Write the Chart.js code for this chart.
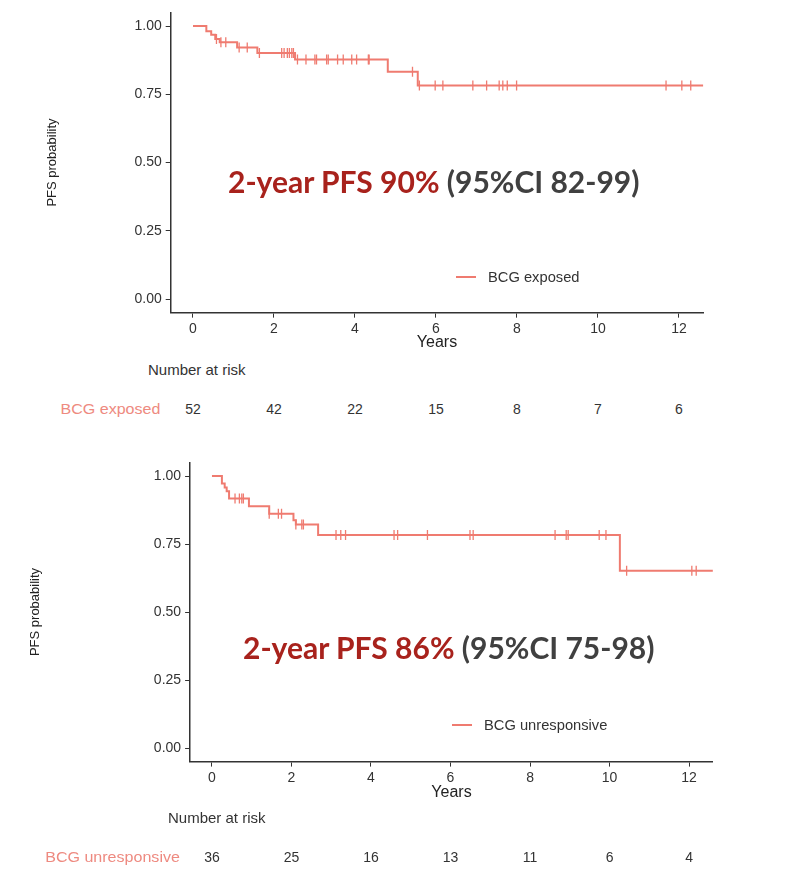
<!DOCTYPE html>
<html lang="en">
<head>
    <meta charset="UTF-8">
    <title>PFS by BCG status</title>
    <style>
        body {
            margin: 0;
            width: 796px;
            height: 888px;
            position: relative;
            overflow: hidden;
            background: #fff;
            font-family: "Liberation Sans", Arial, sans-serif;
        }
        .panel {
            position: absolute;
            left: 0;
            width: 796px;
            height: 360px;
        }
        .txt {
            position: absolute;
            white-space: nowrap;
            color: #333;
            font-size: 15px;
            line-height: 16px;
        }
        .risk-label {
            color: #EE8A80;
            text-align: right;
            transform: scaleX(1.07);
            transform-origin: right center;
        }
        .risk-num { transform: translateX(-50%); font-size: 14px; }
        .legend-line {
            position: absolute;
            width: 20px;
            height: 2px;
            background: #EF7B70;
        }
        .legend-txt {
            font-size: 14px;
            transform: scaleX(1.05);
            transform-origin: left center;
        }
        .pfs {
            position: absolute;
            white-space: nowrap;
            font-family: Lato, "Open Sans", sans-serif;
            font-weight: 700;
            font-size: 30px;
            line-height: 34px;
        }
        .pfs .hi { color: #A8221C; }
        .pfs .ci { color: #404040; }
    </style>
</head>
<body>
    <canvas id="exposedChart" class="panel" style="top:0" width="796" height="360"></canvas>
    <canvas id="unrespChart" class="panel" style="top:450px" width="796" height="360"></canvas>

    <!-- top panel texts -->
    <div class="pfs" style="left:228px; top:164px"><span class="hi">2-year PFS 90%</span> <span class="ci">(95%CI 82-99)</span></div>
    <div class="legend-line" style="left:456px; top:276px"></div>
    <div class="txt legend-txt" style="left:488px; top:269px">BCG exposed</div>
    <div class="txt" style="left:148px; top:362px">Number at risk</div>
    <div class="txt risk-label" style="right:636px; top:401px">BCG exposed</div>
    <div id="exposedRiskRow"></div>

    <!-- bottom panel texts -->
    <div class="pfs" style="left:243px; top:630px"><span class="hi">2-year PFS 86%</span> <span class="ci">(95%CI 75-98)</span></div>
    <div class="legend-line" style="left:452px; top:724px"></div>
    <div class="txt legend-txt" style="left:484px; top:717px">BCG unresponsive</div>
    <div class="txt" style="left:168px; top:810px">Number at risk</div>
    <div class="txt risk-label" style="right:616px; top:849px">BCG unresponsive</div>
    <div id="unrespRiskRow"></div>

    <script src="https://cdn.jsdelivr.net/npm/chart.js"></script>
    <script>
        // axis ticks
        const yearTicks = [0, 2, 4, 6, 8, 10, 12];
        const probTicks = [0, 0.25, 0.5, 0.75, 1];

        // BCG exposed: step times (years) and survival after each step
        const exposedTimes = [0, 0.33, 0.45, 0.55, 0.66, 1.09, 1.59, 2.52, 4.81, 5.55, 12.6];
        const exposedSurv  = [1, 0.981, 0.968, 0.953, 0.941, 0.921, 0.901, 0.877, 0.833, 0.782, 0.782];
        const exposedCensor = [0.58, 0.69, 0.81, 1.14, 1.34, 1.64, 2.19, 2.25, 2.33, 2.38, 2.44, 2.48,
                               2.58, 2.79, 3.01, 3.05, 3.30, 3.34, 3.57, 3.71, 3.92, 4.04, 4.33, 4.35,
                               5.42, 5.59, 5.98, 6.17, 6.91, 7.25, 7.56, 7.65, 7.76, 7.99, 11.68, 12.07, 12.29];
        const exposedRisk = [52, 42, 22, 15, 8, 7, 6];

        // BCG unresponsive
        const unrespTimes = [0, 0.25, 0.32, 0.37, 0.43, 0.93, 1.44, 2.05, 2.11, 2.67, 10.26, 12.6];
        const unrespSurv  = [1, 0.972, 0.958, 0.944, 0.917, 0.889, 0.861, 0.837, 0.822, 0.783, 0.652, 0.652];
        const unrespCensor = [0.58, 0.69, 0.75, 0.79, 1.44, 1.67, 1.75, 2.11, 2.26, 2.30, 3.12, 3.24, 3.36,
                              4.58, 4.67, 5.42, 6.49, 6.57, 8.63, 8.91, 8.96, 9.74, 9.91, 10.43, 12.07, 12.18];
        const unrespRisk = [36, 25, 16, 13, 11, 6, 4];

        const lineColor = '#EF7B70';
        const axisColor = '#333';

        Chart.defaults.font.family = '"Liberation Sans", Arial, sans-serif';

        // survival level at time t (for placing censor marks on the curve)
        function levelAt(times, surv, t) {
            let s = surv[0];
            for (let i = 0; i < times.length; i++) {
                if (times[i] <= t) s = surv[i];
            }
            return s;
        }

        function kmChart(id, times, surv, censor, pad, yWidth, xHeight) {
            const steps = times.map((t, i) => ({ x: t, y: surv[i] }));
            const marks = censor.map(t => ({ x: t, y: levelAt(times, surv, t) }));
            const ctx = document.getElementById(id).getContext('2d');
            return new Chart(ctx, {
                type: 'line',
                data: {
                    datasets: [{
                        data: steps,
                        stepped: true,
                        borderColor: lineColor,
                        borderWidth: 2,
                        pointRadius: 0,
                        fill: false
                    }, {
                        data: marks,
                        showLine: false,
                        pointStyle: 'line',
                        rotation: 90,
                        pointRadius: 5,
                        borderColor: lineColor,
                        borderWidth: 1.3
                    }]
                },
                options: {
                    responsive: false,
                    animation: false,
                    layout: { padding: pad },
                    plugins: { legend: { display: false }, tooltip: { enabled: false } },
                    scales: {
                        x: {
                            type: 'linear',
                            min: -0.55,
                            max: 12.6,
                            afterBuildTicks: s => { s.ticks = yearTicks.map(v => ({ value: v })); },
                            afterFit: s => { s.height = xHeight; },
                            grid: { drawOnChartArea: false, tickLength: 5, color: axisColor },
                            border: { color: axisColor, width: 1.5 },
                            ticks: { color: '#333', font: { size: 14 }, padding: 3, maxRotation: 0 },
                            title: { display: true, text: 'Years', color: '#222', font: { size: 16 }, padding: { top: 0, bottom: 4 } }
                        },
                        y: {
                            min: -0.05,
                            max: 1.05,
                            afterBuildTicks: s => { s.ticks = probTicks.map(v => ({ value: v })); },
                            afterFit: s => { s.width = yWidth; },
                            grid: { drawOnChartArea: false, tickLength: 5, color: axisColor },
                            border: { color: axisColor, width: 1.5 },
                            ticks: { color: '#333', font: { size: 14 }, padding: 4, callback: v => v.toFixed(2) },
                            title: { display: true, text: 'PFS probability', color: '#222', font: { size: 13 }, padding: { top: 4, bottom: 4 } }
                        }
                    }
                }
            });
        }

        // number-at-risk row, aligned to the chart's own x scale
        function riskRow(chart, rowId, counts, rowTop) {
            const row = document.getElementById(rowId);
            counts.forEach((n, i) => {
                const d = document.createElement('div');
                d.className = 'txt risk-num';
                d.textContent = n;
                d.style.left = chart.scales.x.getPixelForValue(yearTicks[i]) + 'px';
                d.style.top = rowTop + 'px';
                row.appendChild(d);
            });
        }

        const exposedChart = kmChart('exposedChart', exposedTimes, exposedSurv, exposedCensor,
            { left: 41, top: 12.35, right: 92.7, bottom: 4 }, 129.7, 43.35);
        const unrespChart = kmChart('unrespChart', unrespTimes, unrespSurv, unrespCensor,
            { left: 24, top: 12.4, right: 83.1, bottom: 4 }, 166.1, 44.4);

        riskRow(exposedChart, 'exposedRiskRow', exposedRisk, 401);
        riskRow(unrespChart, 'unrespRiskRow', unrespRisk, 849);
    </script>
</body>
</html>
